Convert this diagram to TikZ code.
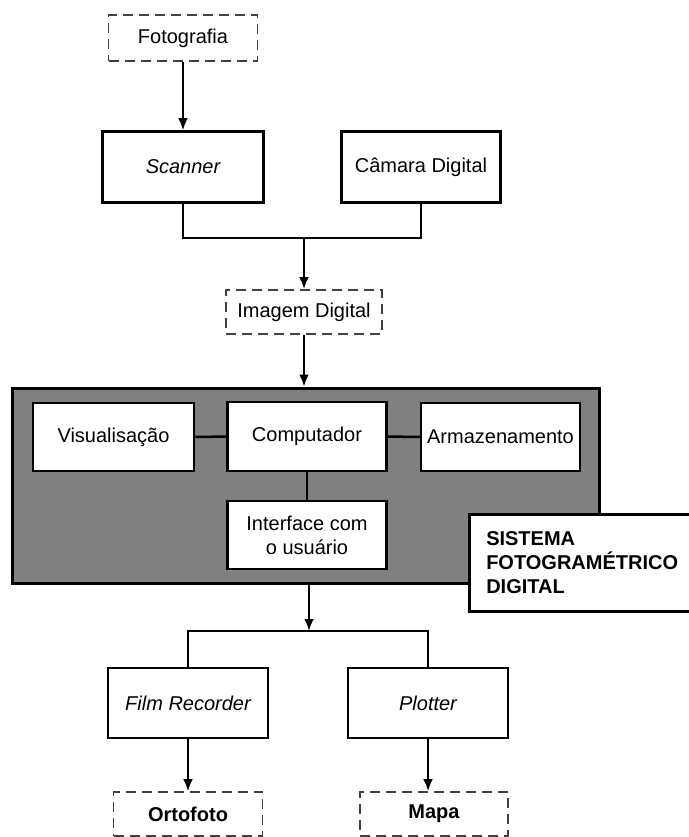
\documentclass[tikz,border=0pt]{standalone}
\usepackage{fontspec}
\setmainfont{Liberation Sans}
\usepackage{tikz}
\usetikzlibrary{positioning, arrows.meta}
\definecolor{cinzasistema}{RGB}{128,128,128}

\begin{document}
\begin{tikzpicture}[x=1pt, y=-1pt,
    caixa/.style={draw, line width=2.5pt, fill=white, inner xsep=2pt, font=\fontsize{20}{24}\selectfont},
    tracejada/.style={draw=black!75, line width=1.6pt, dash pattern=on 10pt off 6pt, fill=white, font=\fontsize{20}{24}\selectfont},
    linha/.style={line width=2.5pt},
    seta/.style={line width=2.5pt, arrows={-Latex[width=10pt, length=12pt]}}]
      \useasboundingbox (0,0) rectangle (688,837);

      % Entrada: fotografia ou camara
      \node[tracejada, minimum width=149pt, minimum height=46pt] at (183,38) (foto) {Fotografia};
      \node[caixa, minimum width=161pt, minimum height=71pt] at (183,167) (scanner) {\itshape Scanner};
      \node[caixa, minimum width=159pt, minimum height=71pt] at (421,167) (camara) {Câmara Digital};
      \node[tracejada, minimum width=156pt, minimum height=44pt] at (304,312) (imagem) {Imagem Digital};
      \coordinate (juntaA) at (304,238);

      % Sistema fotogrametrico
      \node[draw, line width=3pt, fill=cinzasistema, minimum width=587pt, minimum height=195pt] at (306,485.5) (sistema) {};
      \node[caixa, minimum width=161pt, minimum height=68pt] at (113.5,437) (visual) {Visualisação};
      \node[caixa, minimum width=159pt, minimum height=69pt] at (307,436.5) (computador) {Computador};
      \node[caixa, minimum width=159pt, minimum height=68pt] at (500.5,437) (armazena) {Armazenamento};
      \node[caixa, align=center, minimum width=159pt, minimum height=68pt] at (307,535) (interface) {Interface com\\o usuário};
      \node[draw, line width=2.5pt, fill=white, anchor=north west, minimum width=224pt, minimum height=97pt,
            text width=190pt, inner xsep=17pt, align=left, font=\bfseries\fontsize{20}{24}\selectfont] at (468,513) (rotulo) {SISTEMA\\FOTOGRAMÉTRICO\\DIGITAL};

      % Saidas
      \coordinate (juntaB) at (309,631);
      \node[caixa, minimum width=160pt, minimum height=70pt] at (188,703) (filmrec) {\itshape Film Recorder};
      \node[caixa, minimum width=160pt, minimum height=70pt] at (428,703) (plotter) {\itshape Plotter};
      \node[tracejada, minimum width=149pt, minimum height=44pt, font=\bfseries\fontsize{20}{24}\selectfont] at (188,814) (ortofoto) {Ortofoto};
      \node[tracejada, minimum width=148pt, minimum height=44pt, font=\bfseries\fontsize{20}{24}\selectfont] at (434,814) (mapa) {Mapa};

      \draw[seta] (foto) -- (scanner);
      \draw[linha] (scanner.south) |- (juntaA) -| (camara.south);
      \draw[seta] (juntaA) -- (imagem.north);
      \draw[seta] (imagem.south) -- (imagem.south |- sistema.north);

      \draw[linha] (visual) -- (computador);
      \draw[linha] (computador) -- (armazena);
      \draw[linha] (computador) -- (interface);

      \draw[seta] (juntaB |- sistema.south) -- (juntaB);
      \draw[linha] (filmrec.north) |- (juntaB) -| (plotter.north);
      \draw[seta] (filmrec.south) -- (filmrec.south |- ortofoto.north);
      \draw[seta] (plotter.south) -- (plotter.south |- mapa.north);
    \end{tikzpicture}
\end{document}
